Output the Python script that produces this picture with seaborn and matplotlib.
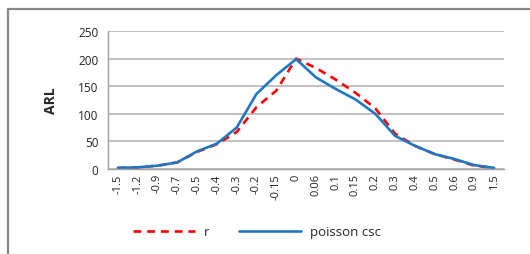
import matplotlib
matplotlib.use("Agg")
import matplotlib.pyplot as plt
import seaborn as sns
import pandas as pd
from matplotlib.lines import Line2D

categories = ["-1.5", "-1.2", "-0.9", "-0.7", "-0.5", "-0.4", "-0.3", "-0.2", "-0.15", "0",
              "0.06", "0.1", "0.15", "0.2", "0.3", "0.4", "0.5", "0.6", "0.9", "1.5"]
r_values = [2, 3, 6, 12, 31, 45, 67, 112, 142, 200,
            183, 162, 138, 110, 64, 42, 27, 17, 6, 2]
poisson_values = [2, 3, 6, 12, 32, 46, 75, 136, 170, 199,
                  166, 145, 126, 100, 60, 42, 27, 18, 7, 2]
yticks = [0, 50, 100, 150, 200, 250]

sns.set_theme(style="white")
plt.rcParams['font.family'] = ['Open Sans', 'DejaVu Sans']

df = pd.DataFrame({
    "x": categories * 2,
    "pos": list(range(len(categories))) * 2,
    "ARL": r_values + poisson_values,
    "series": ["r"] * len(categories) + ["poisson csc"] * len(categories),
})

fig = plt.figure(figsize=(5.3, 2.55), dpi=100)
ax = fig.add_axes([108/530, 1-170/255, (504-108)/530, (170-32)/255])

sns.lineplot(data=df, x="pos", y="ARL", hue="series", style="series",
             palette={"r": "#FF0000", "poisson csc": "#1F77C4"},
             dashes={"r": (3, 2.2), "poisson csc": ""},
             linewidth=1.9, ax=ax, legend=False, sort=False)

ax.set_xlim(-0.5, len(categories) - 0.5)
ax.set_ylim(0, 250)
ax.set_yticks(yticks)
ax.set_yticklabels([str(t) for t in yticks], fontsize=8.5, color="#222222")
ax.set_xticks(range(len(categories)))
ax.set_xticklabels(categories, rotation=90, fontsize=8, color="#222222")
ax.tick_params(axis="y", length=0, pad=7)
ax.tick_params(axis="x", length=0, pad=3)
ax.yaxis.grid(True, color="#B0B0B0", linewidth=1.1)
ax.set_axisbelow(True)
ax.set_xlabel("")
ax.set_ylabel("ARL", fontsize=10, fontweight="bold", labelpad=14)
for s in ["top", "right"]:
    ax.spines[s].set_visible(False)
for s in ["left", "bottom"]:
    ax.spines[s].set_color("#A0A0A0")
    ax.spines[s].set_linewidth(1.0)

handles = [Line2D([], [], color="#FF0000", linestyle=(0, (3, 2.2)), linewidth=1.9),
           Line2D([], [], color="#1F77C4", linewidth=1.9)]
fig.legend(handles, ["r", "poisson csc"], loc="center", bbox_to_anchor=(257/530, 1-233/255),
           ncol=2, frameon=False, fontsize=9.5, handlelength=4.7, columnspacing=2.2,
           handletextpad=0.7)

fig.add_artist(Line2D([8/530, 8/530, 1.0], [0.0, 1-10/255, 1-10/255],
                      transform=fig.transFigure, color="#888888", linewidth=1.6))

fig.savefig("out.png", dpi=100)
